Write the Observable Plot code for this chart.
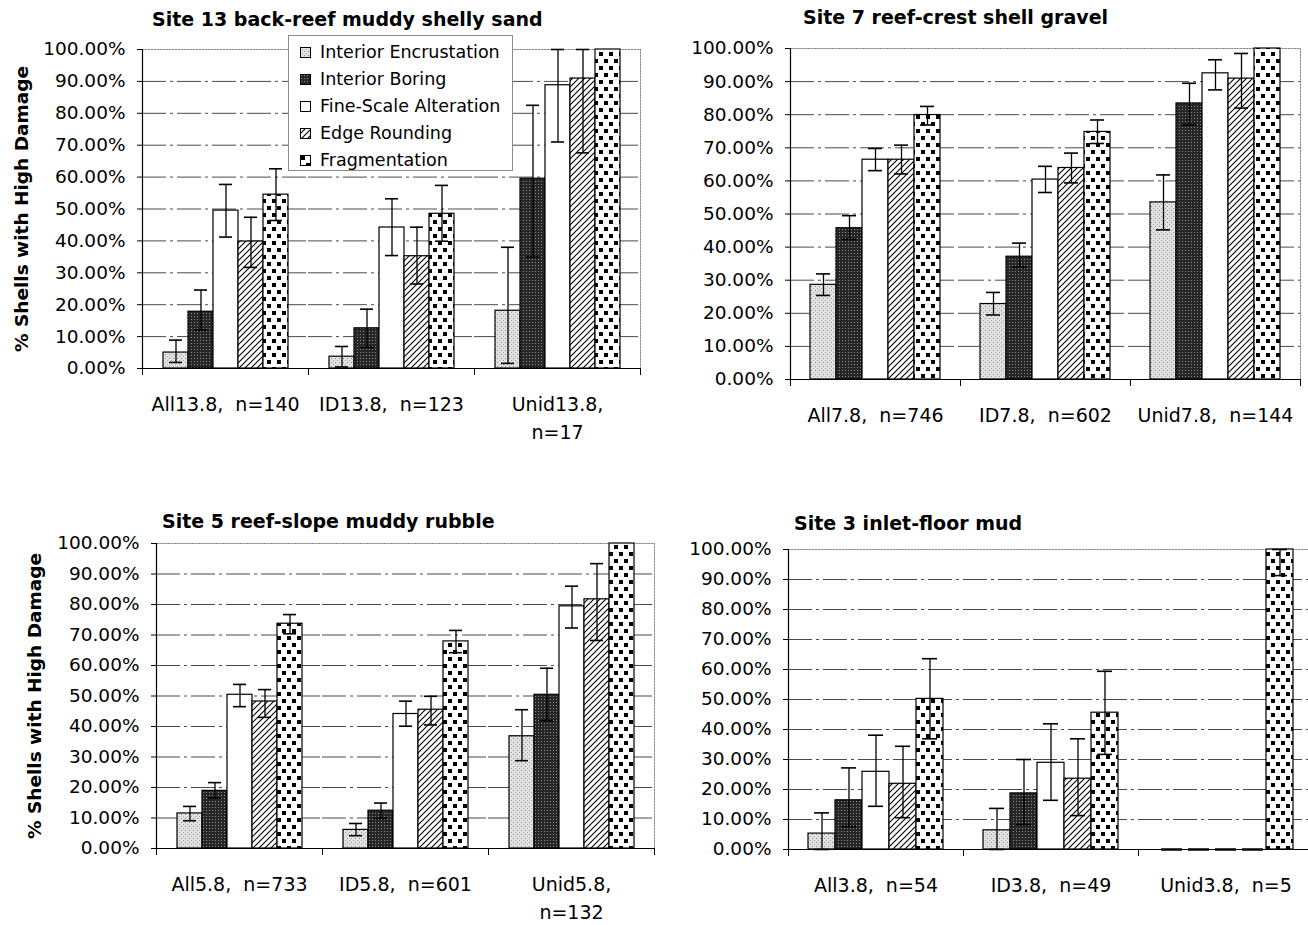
<!DOCTYPE html>
<html>
<head>
<meta charset="utf-8">
<script src="https://cdn.jsdelivr.net/npm/d3@7"></script>
<script src="https://cdn.jsdelivr.net/npm/@observablehq/plot@0.6"></script>
<style>
  html, body { margin: 0; padding: 0; background: #fff; }
  body { width: 1308px; height: 925px; position: relative; overflow: hidden; font-family: "DejaVu Sans", sans-serif; color: #000; }
  .panel { position: absolute; }
  .panel svg { max-width: none !important; }
  .title { position: absolute; font-weight: bold; font-size: 19px; line-height: 22px; white-space: nowrap; }
  .legend { position: absolute; background: #fff; border: 1px solid #8a8a8a; box-sizing: border-box; }
  .legend .row { position: absolute; left: 11px; height: 20px; display: flex; align-items: center; font-size: 17.5px; white-space: nowrap; }
  .legend .row svg { margin-right: 9px; }
</style>
</head>
<body>
<svg width="0" height="0" style="position:absolute">
  <defs>
    <pattern id="pEnc" patternUnits="userSpaceOnUse" width="4" height="4">
      <rect width="4" height="4" fill="#e2e2e2"/>
      <rect x="0" y="0" width="1" height="1" fill="#8a8a8a"/>
      <rect x="2" y="2" width="1" height="1" fill="#a2a2a2"/>
    </pattern>
    <pattern id="pBor" patternUnits="userSpaceOnUse" width="3" height="3">
      <rect width="3" height="3" fill="#262626"/>
      <rect x="1" y="1" width="1" height="1" fill="#8c8c8c"/>
    </pattern>
    <pattern id="pEdge" patternUnits="userSpaceOnUse" width="6" height="6">
      <rect width="6" height="6" fill="#fff"/>
      <path d="M-1,1 L1,-1 M0,6 L6,0 M5,7 L7,5" stroke="#000" stroke-width="1.1"/>
    </pattern>
    <pattern id="pFrag" patternUnits="userSpaceOnUse" width="10" height="14">
      <rect width="10" height="14" fill="#fff"/>
      <rect x="1" y="1" width="4" height="4" fill="#000"/>
      <rect x="6" y="8" width="4" height="4" fill="#000"/>
    </pattern>
  </defs>
</svg>
<script>
// ---------- data ----------
const series = ["Interior Encrustation", "Interior Boring", "Fine-Scale Alteration", "Edge Rounding", "Fragmentation"];
const seriesFill = ["url(#pEnc)", "url(#pBor)", "white", "url(#pEdge)", "url(#pFrag)"];
const yTicks = [0, 10, 20, 30, 40, 50, 60, 70, 80, 90, 100];
const gridTicks = [10, 20, 30, 40, 50, 60, 70, 80, 90];
const yTitle = "% Shells with High Damage";

const site13Title = "Site 13 back-reef muddy shelly sand";
const site13Groups = ["All13.8", "ID13.8", "Unid13.8"];
const site13Labels = ["All13.8,\u00a0 n=140", "ID13.8,\u00a0 n=123", "Unid13.8,\nn=17"];
const site13Value = [[5.0, 17.8, 49.5, 39.8, 54.5], [3.7, 12.6, 44.2, 35.2, 48.5], [18.1, 59.5, 88.8, 90.9, 100]];
const site13Low   = [[1.9, 12.0, 41.2, 31.7, 46.4], [0.5, 6.6, 35.4, 26.5, 39.9], [1.6, 34.9, 71.0, 67.6, 100]];
const site13High  = [[8.9, 24.6, 57.7, 47.4, 62.6], [6.9, 18.6, 53.2, 44.3, 57.4], [38.0, 82.5, 100, 100, 100]];

const site7Title = "Site 7 reef-crest shell gravel";
const site7Groups = ["All7.8", "ID7.8", "Unid7.8"];
const site7Labels = ["All7.8,\u00a0 n=746", "ID7.8,\u00a0 n=602", "Unid7.8,\u00a0 n=144"];
const site7Value = [[28.6, 45.7, 66.4, 66.4, 79.9], [22.8, 37.1, 60.4, 63.9, 74.8], [53.5, 83.4, 92.5, 90.9, 100]];
const site7Low   = [[25.4, 42.3, 63.1, 62.1, 76.9], [19.5, 33.9, 56.5, 59.4, 71.3], [45.2, 76.9, 87.5, 82.0, 100]];
const site7High  = [[31.9, 49.5, 69.8, 70.8, 82.5], [26.3, 41.2, 64.4, 68.4, 78.4], [61.8, 89.5, 96.6, 98.5, 100]];

const site5Title = "Site 5 reef-slope muddy rubble";
const site5Groups = ["All5.8", "ID5.8", "Unid5.8"];
const site5Labels = ["All5.8,\u00a0 n=733", "ID5.8,\u00a0 n=601", "Unid5.8,\nn=132"];
const site5Value = [[11.5, 18.9, 50.4, 48.2, 73.7], [6.1, 12.4, 44.1, 45.5, 67.9], [36.8, 50.4, 79.4, 81.7, 100]];
const site5Low   = [[9.1, 16.5, 46.5, 43.0, 70.4], [4.2, 9.9, 40.1, 40.5, 64.2], [28.8, 41.9, 72.3, 68.2, 100]];
const site5High  = [[13.8, 21.6, 53.8, 52.1, 76.7], [8.2, 14.9, 48.3, 49.9, 71.5], [45.5, 59.1, 86.0, 93.4, 100]];

const site3Title = "Site 3 inlet-floor mud";
const site3Groups = ["All3.8", "ID3.8", "Unid3.8"];
const site3Labels = ["All3.8,\u00a0 n=54", "ID3.8,\u00a0 n=49", "Unid3.8,\u00a0 n=5"];
const site3Value = [[5.3, 16.4, 25.9, 21.9, 50.2], [6.4, 18.7, 28.9, 23.6, 45.6], [0, 0, 0, 0, 100]];
const site3Low   = [[0, 7.6, 14.4, 10.6, 36.9], [0, 8.3, 16.4, 11.3, 31.7], [0, 0, 0, 0, 91.3]];
const site3High  = [[12.2, 27.2, 38.1, 34.4, 63.6], [13.7, 30.0, 41.9, 36.9, 59.4], [0, 0, 0, 0, 100]];

// ---------- drawing ----------
function drawPanel(cfg) {
  const rows = [];
  cfg.groups.forEach((g, gi) => series.forEach((s, si) => rows.push({
    group: g, series: s, value: cfg.value[gi][si], lo: cfg.low[gi][si], hi: cfg.high[gi][si]
  })));
  const errs = rows.filter(d => d.hi > d.lo);
  const zeros = rows.filter(d => d.value === 0);
  const [bx, by, W, H] = cfg.box;
  const [pl, pr, pt, pb] = cfg.plot;
  const plotH = pb - pt;
  const labelOf = new Map(cfg.groups.map((g, i) => [g, cfg.labels[i]]));
  const marks = [
    Plot.gridY(gridTicks, {stroke: "#4a4a4a", strokeOpacity: 1, strokeWidth: 1, strokeDasharray: "24,4,3,4"}),
    Plot.frame({anchor: "top", facet: "super", stroke: "#8a8a8a", strokeDasharray: "1.5,1.5"}),
    Plot.frame({anchor: "right", facet: "super", stroke: "#8a8a8a", strokeDasharray: "1.5,1.5"}),
    Plot.barY(rows, {fx: "group", x: "series", y: "value", fill: "series", stroke: "black", strokeWidth: 1.2}),
    Plot.tickY(zeros, {fx: "group", x: "series", y: "value", stroke: "black", strokeWidth: 2.5, insetLeft: 3, insetRight: 3}),
    Plot.ruleX(errs, {fx: "group", x: "series", y1: "lo", y2: "hi", stroke: "black", strokeWidth: 1.3}),
    Plot.tickY(errs, {fx: "group", x: "series", y: "lo", stroke: "black", strokeWidth: 1.6, insetLeft: 6, insetRight: 6}),
    Plot.tickY(errs, {fx: "group", x: "series", y: "hi", stroke: "black", strokeWidth: 1.6, insetLeft: 6, insetRight: 6}),
    Plot.ruleY([0], {stroke: "black", strokeWidth: 1.2}),
    Plot.frame({anchor: "left", facet: "super", stroke: "black", strokeWidth: 1.2}),
    Plot.frame({anchor: "left", stroke: "black", strokeWidth: 1, insetTop: plotH, insetBottom: -6}),
    Plot.frame({anchor: "right", facet: "super", stroke: "black", strokeWidth: 1, insetTop: plotH, insetBottom: -6}),
    Plot.axisFx({anchor: "bottom", tickSize: 0, tickPadding: 23, fontSize: 19, lineHeight: 1.45,
                 tickFormat: g => labelOf.get(g), label: null})
  ];
  if (cfg.yTitleX != null) {
    marks.push(Plot.text([yTitle], {text: d => d, frameAnchor: "left", textAnchor: "middle", lineAnchor: "middle",
      rotate: -90, dx: cfg.yTitleX - pl, fontWeight: "bold", fontSize: 18.5, facet: "super"}));
  }
  const svg = Plot.plot({
    width: W, height: H,
    marginLeft: pl - bx, marginRight: bx + W - pr, marginTop: pt - by, marginBottom: by + H - pb,
    style: {fontFamily: "DejaVu Sans", fontSize: "18.5px", color: "black", background: "none", overflow: "visible", maxWidth: "none"},
    fx: {domain: cfg.groups, padding: 0, label: null},
    x: {domain: series, paddingInner: 0, paddingOuter: 0.72, axis: null},
    y: {domain: [0, 100], ticks: yTicks, tickFormat: d => d.toFixed(2) + "%", tickSize: 5, tickPadding: 12, label: null},
    color: {type: "ordinal", domain: series, range: seriesFill},
    marks
  });
  svg.style.maxWidth = "none";
  svg.style.width = W + "px";
  svg.style.height = H + "px";
  const wrap = document.createElement("div");
  wrap.className = "panel";
  wrap.style.left = bx + "px";
  wrap.style.top = by + "px";
  wrap.style.width = W + "px";
  wrap.style.height = H + "px";
  wrap.appendChild(svg);
  document.body.appendChild(wrap);

  const t = document.createElement("div");
  t.className = "title";
  t.textContent = cfg.title;
  t.style.left = cfg.titlePos[0] + "px";
  t.style.top = (cfg.titlePos[1] - 11) + "px";
  document.body.appendChild(t);
}

drawPanel({title: site13Title, groups: site13Groups, labels: site13Labels, value: site13Value, low: site13Low, high: site13High,
  box: [0, 30, 654, 420], plot: [141, 641, 49, 368], titlePos: [152, 19], yTitleX: 21});
drawPanel({title: site7Title, groups: site7Groups, labels: site7Labels, value: site7Value, low: site7Low, high: site7High,
  box: [654, 30, 654, 420], plot: [789, 1301, 48, 379], titlePos: [803, 17]});
drawPanel({title: site5Title, groups: site5Groups, labels: site5Labels, value: site5Value, low: site5Low, high: site5High,
  box: [0, 530, 660, 395], plot: [155, 655, 543, 848], titlePos: [162, 521], yTitleX: 34});
drawPanel({title: site3Title, groups: site3Groups, labels: site3Labels, value: site3Value, low: site3Low, high: site3High,
  box: [660, 530, 660, 395], plot: [788, 1313, 549, 849], titlePos: [794, 523]});

// legend (top-left panel)
const legend = document.createElement("div");
legend.className = "legend";
Object.assign(legend.style, {left: "288px", top: "35px", width: "225px", height: "136px"});
series.forEach((s, i) => {
  const row = document.createElement("div");
  row.className = "row";
  row.style.top = (6 + i * 27) + "px";
  row.innerHTML = `<svg width="11" height="11"><rect x="0.5" y="0.5" width="10" height="10" fill="${seriesFill[i]}" stroke="#000" stroke-width="1"/></svg><span>${s}</span>`;
  legend.appendChild(row);
});
document.body.appendChild(legend);
</script>
</body>
</html>
